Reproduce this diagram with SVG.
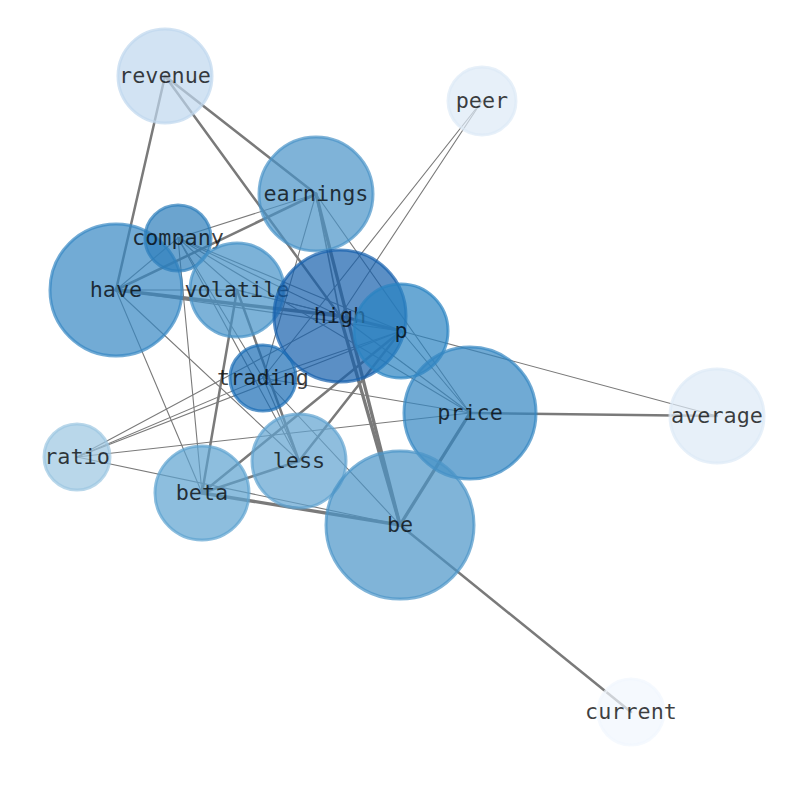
<svg xmlns="http://www.w3.org/2000/svg" width="794" height="790" viewBox="0 0 794 790">
<style>
.e{stroke:#7a7a7a;stroke-linecap:round;fill:none}
.t1{stroke-width:1.1}
.t2{stroke-width:1.6}
.t3{stroke-width:2.5}
.t4{stroke-width:3.3}
.n circle{fill-opacity:0.7;stroke-opacity:0.7;stroke-width:3}
.n text{font-family:"DejaVu Sans Mono","Liberation Mono",monospace;font-size:21.8px;text-anchor:middle;fill:#000;fill-opacity:0.75}
</style>
<rect width="794" height="790" fill="#fff"/>
<g id="edges">
<line class="e t3" x1="165" y1="76" x2="116" y2="290"/>
<line class="e t3" x1="165" y1="76" x2="316" y2="194"/>
<line class="e t3" x1="165" y1="76" x2="340" y2="316"/>
<line class="e t1" x1="482" y1="101" x2="340" y2="316"/>
<line class="e t1" x1="482" y1="101" x2="263" y2="378"/>
<line class="e t3" x1="316" y1="194" x2="116" y2="290"/>
<line class="e t1" x1="316" y1="194" x2="178" y2="238"/>
<line class="e t1" x1="316" y1="194" x2="263" y2="378"/>
<line class="e t2" x1="316" y1="194" x2="340" y2="316"/>
<line class="e t4" x1="316" y1="194" x2="400" y2="525"/>
<line class="e t1" x1="316" y1="194" x2="470" y2="413"/>
<line class="e t1" x1="178" y1="238" x2="116" y2="290"/>
<line class="e t1" x1="178" y1="238" x2="237" y2="290"/>
<line class="e t1" x1="178" y1="238" x2="340" y2="316"/>
<line class="e t1" x1="178" y1="238" x2="401" y2="331"/>
<line class="e t1" x1="178" y1="238" x2="470" y2="413"/>
<line class="e t1" x1="178" y1="238" x2="263" y2="378"/>
<line class="e t1" x1="178" y1="238" x2="299" y2="461"/>
<line class="e t1" x1="178" y1="238" x2="202" y2="493"/>
<line class="e t1" x1="116" y1="290" x2="237" y2="290"/>
<line class="e t4" x1="116" y1="290" x2="340" y2="316"/>
<line class="e t1" x1="116" y1="290" x2="401" y2="331"/>
<line class="e t1" x1="116" y1="290" x2="299" y2="461"/>
<line class="e t1" x1="116" y1="290" x2="202" y2="493"/>
<line class="e t1" x1="237" y1="290" x2="340" y2="316"/>
<line class="e t1" x1="237" y1="290" x2="401" y2="331"/>
<line class="e t3" x1="237" y1="290" x2="202" y2="493"/>
<line class="e t3" x1="237" y1="290" x2="299" y2="461"/>
<line class="e t4" x1="340" y1="316" x2="401" y2="331"/>
<line class="e t4" x1="340" y1="316" x2="400" y2="525"/>
<line class="e t1" x1="340" y1="316" x2="470" y2="413"/>
<line class="e t1" x1="401" y1="331" x2="717" y2="416"/>
<line class="e t1" x1="401" y1="331" x2="470" y2="413"/>
<line class="e t3" x1="401" y1="331" x2="299" y2="461"/>
<line class="e t3" x1="401" y1="331" x2="202" y2="493"/>
<line class="e t1" x1="401" y1="331" x2="263" y2="378"/>
<line class="e t1" x1="401" y1="331" x2="77" y2="457"/>
<line class="e t1" x1="340" y1="316" x2="77" y2="457"/>
<line class="e t1" x1="263" y1="378" x2="77" y2="457"/>
<line class="e t1" x1="263" y1="378" x2="470" y2="413"/>
<line class="e t1" x1="263" y1="378" x2="400" y2="525"/>
<line class="e t1" x1="263" y1="378" x2="299" y2="461"/>
<line class="e t3" x1="470" y1="413" x2="717" y2="416"/>
<line class="e t4" x1="470" y1="413" x2="400" y2="525"/>
<line class="e t1" x1="470" y1="413" x2="77" y2="457"/>
<line class="e t3" x1="202" y1="493" x2="299" y2="461"/>
<line class="e t4" x1="202" y1="493" x2="400" y2="525"/>
<line class="e t1" x1="77" y1="457" x2="400" y2="525"/>
<line class="e t3" x1="400" y1="525" x2="631" y2="712"/>
</g>
<g id="revenue" class="n"><circle cx="165" cy="76" r="47" fill="#bfd7ee" stroke="#bfd7ee"/><text x="165" y="83">revenue</text></g>
<g id="peer" class="n"><circle cx="482" cy="101" r="34" fill="#ddeaf7" stroke="#ddeaf7"/><text x="482" y="108">peer</text></g>
<g id="earnings" class="n"><circle cx="316" cy="194" r="57" fill="#4893c7" stroke="#4893c7"/><text x="316" y="201">earnings</text></g>
<g id="have" class="n"><circle cx="116" cy="290" r="66" fill="#3688c3" stroke="#3688c3"/><text x="116" y="297">have</text></g>
<g id="company" class="n"><circle cx="178" cy="238" r="33" fill="#2c7dba" stroke="#2c7dba"/><text x="178" y="245">company</text></g>
<g id="volatile" class="n"><circle cx="237" cy="290" r="47" fill="#4491c7" stroke="#4491c7"/><text x="237" y="297">volatile</text></g>
<g id="high" class="n"><circle cx="340" cy="316" r="66" fill="#1560ac" stroke="#1560ac"/><text x="340" y="323">high</text></g>
<g id="p" class="n"><circle cx="401" cy="331" r="47" fill="#2a83c2" stroke="#2a83c2"/><text x="401" y="338">p</text></g>
<g id="trading" class="n"><circle cx="263" cy="378" r="33" fill="#1a6cb5" stroke="#1a6cb5"/><text x="263" y="385">trading</text></g>
<g id="price" class="n"><circle cx="470" cy="413" r="66" fill="#3386c2" stroke="#3386c2"/><text x="470" y="420">price</text></g>
<g id="average" class="n"><circle cx="717" cy="416" r="47" fill="#ddeaf7" stroke="#ddeaf7"/><text x="717" y="423">average</text></g>
<g id="ratio" class="n"><circle cx="77" cy="457" r="33" fill="#9bc6e1" stroke="#9bc6e1"/><text x="77" y="464">ratio</text></g>
<g id="less" class="n"><circle cx="299" cy="461" r="47" fill="#5fa2d0" stroke="#5fa2d0"/><text x="299" y="468">less</text></g>
<g id="beta" class="n"><circle cx="202" cy="493" r="47" fill="#5ca2d0" stroke="#5ca2d0"/><text x="202" y="500">beta</text></g>
<g id="be" class="n"><circle cx="400" cy="525" r="74" fill="#4a94c7" stroke="#4a94c7"/><text x="400" y="532">be</text></g>
<g id="current" class="n"><circle cx="631" cy="712" r="33" fill="#f1f6fe" stroke="#f1f6fe"/><text x="631" y="719">current</text></g>
</svg>
